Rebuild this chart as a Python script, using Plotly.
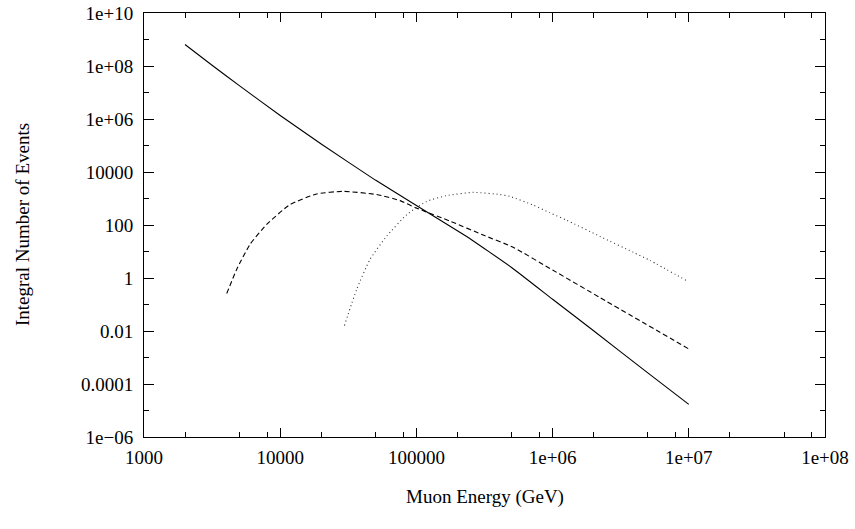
import plotly.graph_objects as go

# Solid curve
solid_energy = [2000, 3160, 5010, 1.0e4, 2.0e4, 5.0e4, 1.0e5, 2.34e5, 5.0e5, 1.0e6, 2.0e6, 5.0e6, 1.0e7]
solid_events = [6.46e8, 1.07e8, 1.82e7, 1.36e6, 1.135e5, 4.95e3, 543, 37, 2.5, 0.158, 0.0102, 2.63e-4, 1.7e-5]

# Dashed curve
dashed_energy = [4050, 4790, 6000, 7960, 11800, 18500, 29000, 51200, 75900, 1.0e5, 1.78e5,
                 3.16e5, 5.13e5, 1.0e6, 2.24e6, 1.0e7]
dashed_events = [0.26, 2.1, 18.6, 105, 590, 1480, 1860, 1410, 830, 437, 138,
                 40, 14.5, 2.0, 0.18, 2.1e-3]

# Dotted curve
dotted_energy = [29600, 36500, 45600, 60500, 84900, 1.19e5, 1.67e5, 2.62e5, 4.11e5, 4.86e5,
                 7.21e5, 9.57e5, 1.27e6, 2.23e6, 3.92e6, 5.19e6, 1.0e7]
dotted_events = [0.016, 0.38, 5.0, 38, 245, 780, 1290, 1700, 1410, 1200,
                 562, 288, 151, 37, 9.3, 4.6, 0.72]

x_tickvals = [1e3, 1e4, 1e5, 1e6, 1e7, 1e8]
x_ticktext = ["1000", "10000", "100000", "1e+06", "1e+07", "1e+08"]
x_minorvals = [m * 10 ** e for e in range(3, 8) for m in (2, 5, 8)]

y_tickvals = [1e-6, 1e-4, 1e-2, 1, 1e2, 1e4, 1e6, 1e8, 1e10]
y_ticktext = ["1e\u221206", "0.0001", "0.01", "1", "100", "10000", "1e+06", "1e+08", "1e+10"]
y_minorvals = [10.0 ** e for e in range(-5, 10, 2)]

x_title = "Muon Energy (GeV)"
y_title = "Integral Number of Events"

font_family = "Liberation Serif, Times New Roman, serif"

fig = go.Figure()
fig.add_trace(go.Scatter(x=solid_energy, y=solid_events, mode="lines",
                         line=dict(color="black", width=1.1, shape="spline", smoothing=0.3),
                         showlegend=False))
fig.add_trace(go.Scatter(x=dashed_energy, y=dashed_events, mode="lines",
                         line=dict(color="black", width=1.1, dash="5px,3px", shape="spline", smoothing=0.5),
                         showlegend=False))
fig.add_trace(go.Scatter(x=dotted_energy, y=dotted_events, mode="lines",
                         line=dict(color="#333333", width=1.1, dash="1px,3px", shape="spline", smoothing=0.5),
                         showlegend=False))

axis_common = dict(
    showgrid=False, zeroline=False, showline=True, linecolor="black", linewidth=1,
    mirror="allticks", ticks="inside", tickcolor="black", tickwidth=1, automargin=False,
    ticklabeloverflow="allow",
    tickfont=dict(family=font_family, size=19, color="black"),
)

fig.update_xaxes(type="log", range=[3, 8], tickmode="array", tickvals=x_tickvals,
                 ticktext=x_ticktext, ticklen=9, ticklabelstandoff=3,
                 minor=dict(tickmode="array", tickvals=x_minorvals, ticklen=5,
                            ticks="inside", tickcolor="black", tickwidth=1),
                 **axis_common)
fig.update_yaxes(type="log", range=[-6, 10], tickmode="array", tickvals=y_tickvals,
                 ticktext=y_ticktext, ticklen=10, ticklabelstandoff=6,
                 minor=dict(tickmode="array", tickvals=y_minorvals, ticklen=5,
                            ticks="inside", tickcolor="black", tickwidth=1),
                 **axis_common)

fig.add_annotation(text=x_title, xref="paper", yref="paper", x=0.5, y=0,
                   yshift=-60, xanchor="center", yanchor="middle", showarrow=False,
                   font=dict(family=font_family, size=19, color="black"))
fig.add_annotation(text=y_title, xref="paper", yref="paper", x=0, y=0.5,
                   xshift=-122, xanchor="center", yanchor="middle", textangle=-90,
                   showarrow=False, font=dict(family=font_family, size=19, color="black"))

fig.update_layout(
    width=855, height=529,
    margin=dict(l=144, r=30, t=13, b=92, autoexpand=False),
    paper_bgcolor="white", plot_bgcolor="white",
    font=dict(family=font_family, size=19, color="black"),
)

fig.write_html("out.html", config={"displayModeBar": False},
               post_script="document.body.style.margin='0px';")
